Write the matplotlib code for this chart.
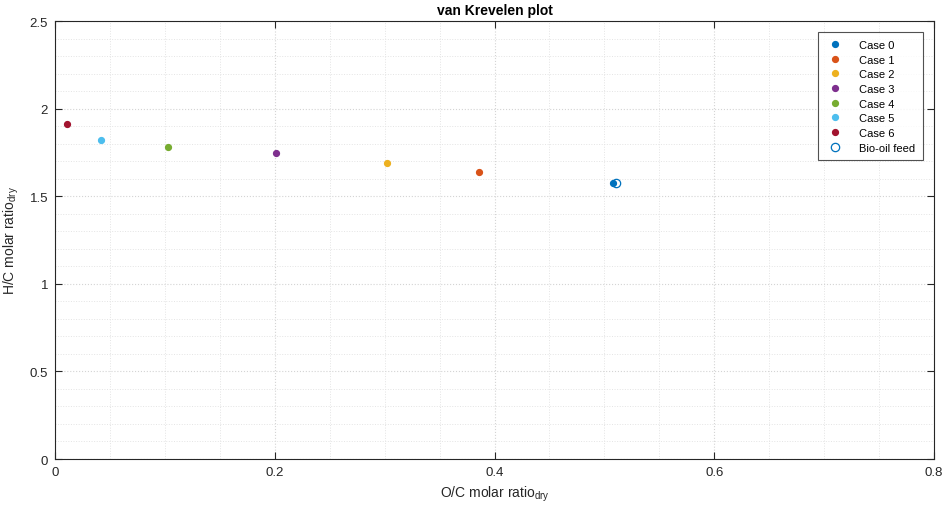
import matplotlib
matplotlib.use("Agg")
import matplotlib.pyplot as plt
from matplotlib.ticker import MultipleLocator, FuncFormatter

plt.rcParams['font.family'] = ['Liberation Sans', 'DejaVu Sans']
plt.rcParams['mathtext.fontset'] = 'custom'
plt.rcParams['mathtext.rm'] = 'Liberation Sans'

# Elemental ratios (dry basis) for each case
cases = ["Case 0", "Case 1", "Case 2", "Case 3", "Case 4", "Case 5", "Case 6"]
oc_ratio = [0.508, 0.386, 0.302, 0.201, 0.103, 0.042, 0.011]
hc_ratio = [1.575, 1.638, 1.689, 1.747, 1.781, 1.821, 1.912]
colors = ["#0072BD", "#D95319", "#EDB120", "#7E2F8E", "#77AC30", "#4DBEEE", "#A2142F"]

feed_label = "Bio-oil feed"
feed_oc = [0.511]
feed_hc = [1.575]

fig = plt.figure(figsize=(9.44, 5.06), dpi=100)
ax = fig.add_axes([0.0583, 0.0909, 0.9311, 0.8656])

for name, x, y, c in zip(cases, oc_ratio, hc_ratio, colors):
    ax.plot([x], [y], 'o', color=c, markersize=4.2, label=name, linestyle='none')
ax.plot(feed_oc, feed_hc, 'o', markerfacecolor='none', markeredgecolor="#0072BD",
        markeredgewidth=0.9, markersize=6, label=feed_label, linestyle='none')

ax.set_xlim(0, 0.8)
ax.set_ylim(0, 2.5)
ax.xaxis.set_major_locator(MultipleLocator(0.2))
ax.xaxis.set_minor_locator(MultipleLocator(0.05))
ax.yaxis.set_major_locator(MultipleLocator(0.5))
ax.yaxis.set_minor_locator(MultipleLocator(0.1))
ax.xaxis.set_major_formatter(FuncFormatter(lambda v, p: f"{v:g}"))
ax.yaxis.set_major_formatter(FuncFormatter(lambda v, p: f"{v:g}"))

ax.grid(True, which='major', linestyle=':', color='#d4d4d4', linewidth=0.8)
ax.grid(True, which='minor', linestyle=':', color='#e4e4e4', linewidth=0.7)
ax.set_axisbelow(True)

ax.tick_params(which='major', direction='in', length=5, width=0.8, labelsize=9.5,
               top=True, right=True, colors='#262626', pad=5)
ax.tick_params(which='minor', length=0)
for s in ax.spines.values():
    s.set_color('#262626')
    s.set_linewidth(0.8)

ax.set_xlabel(r"O/C molar ratio$_{\mathregular{dry}}$", fontsize=10, color='#262626', labelpad=4)
ax.set_ylabel(r"H/C molar ratio$_{\mathregular{dry}}$", fontsize=10, color='#262626', labelpad=6)
ax.set_title("van Krevelen plot", fontsize=10, fontweight='bold', pad=5)

leg = ax.legend(loc='upper right', fontsize=8, frameon=True, fancybox=False,
                edgecolor='#262626', borderaxespad=1.0, borderpad=0.7,
                handletextpad=1.4, labelspacing=0.42, handlelength=1.6)
leg.get_frame().set_linewidth(0.8)

fig.savefig("out.png", dpi=100)
